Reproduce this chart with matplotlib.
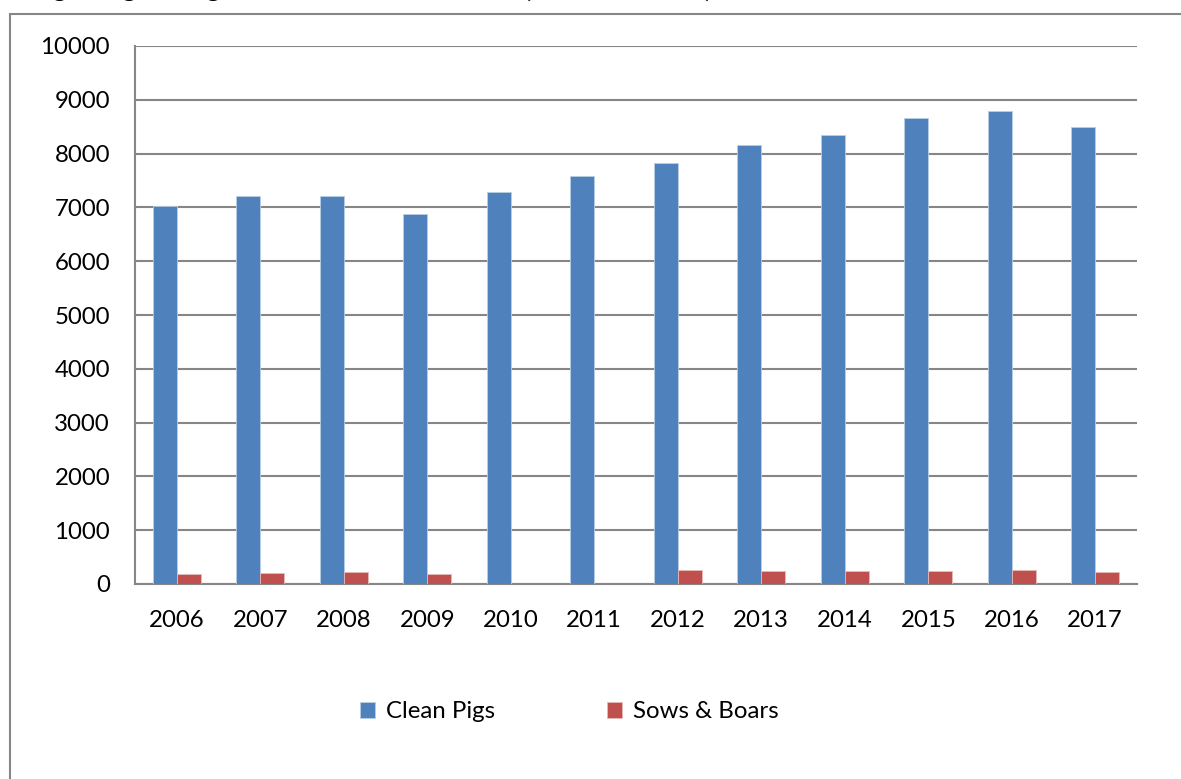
import matplotlib
matplotlib.use('Agg')
import matplotlib.pyplot as plt
import numpy as np
from matplotlib.patches import Rectangle

years = ['2006', '2007', '2008', '2009', '2010', '2011',
         '2012', '2013', '2014', '2015', '2016', '2017']
clean_pigs = [7020, 7220, 7220, 6880, 7280, 7580,
              7830, 8160, 8350, 8670, 8800, 8500]
sows_boars = [186, 205, 223, 186, 0, 0,
              260, 248, 236, 236, 255, 223]

W, H = 1181, 779
fig = plt.figure(figsize=(W / 100, H / 100), dpi=100)
fig.patch.set_facecolor('white')
plt.rcParams['font.family'] = ['Lato', 'DejaVu Sans']

GRID = '#868686'
FS = 17.3

# outer chart frame (runs off the right and bottom edges)
fig.patches.append(Rectangle((10 / W, -0.05), 1.2, (H - 14) / H + 0.05,
                             transform=fig.transFigure, fill=False,
                             edgecolor=GRID, lw=1.5))

# title sits above the visible area, only the descenders peek in
fig.text(30 / W, 1.0 + 3 / H, 'Pig Slaughterings at Licensed Meat Plants (thousand head)',
         ha='left', va='baseline', fontsize=19, fontweight='bold')

ax = fig.add_axes([135 / W, (H - 584) / H, (1137 - 135) / W, (584 - 46) / H])
x = np.arange(len(years))
bw = 1 / 3.5
ax.bar(x - bw / 2, clean_pigs, bw, color='#4F81BD', edgecolor='#B9CDE5',
       lw=0.6, label='Clean Pigs', zorder=3)
ax.bar(x + bw / 2, sows_boars, bw, color='#C0504D', edgecolor='#E6B9B8',
       lw=0.6, label='Sows & Boars', zorder=3)

ax.set_xlim(-0.5, len(years) - 0.5)
ax.set_ylim(0, 10000)
ax.set_yticks(range(0, 10001, 1000))
ax.set_xticks(x)
ax.set_xticklabels(years)
ax.yaxis.grid(True, color=GRID, lw=1.5, zorder=0)
ax.set_axisbelow(True)
for s in ['top', 'right']:
    ax.spines[s].set_visible(False)
for s in ['left', 'bottom']:
    ax.spines[s].set_color(GRID)
    ax.spines[s].set_linewidth(1.5)
ax.tick_params(axis='both', length=0, labelsize=FS, colors='black')
ax.tick_params(axis='y', pad=18)
ax.tick_params(axis='x', pad=19)

leg = fig.legend(loc='center', bbox_to_anchor=(0.482, (H - 712) / H), ncol=2,
                 frameon=False, fontsize=FS, handlelength=0.62,
                 handleheight=0.62, handletextpad=0.45, columnspacing=4.65)

fig.savefig('out.png', dpi=100, facecolor='white')
